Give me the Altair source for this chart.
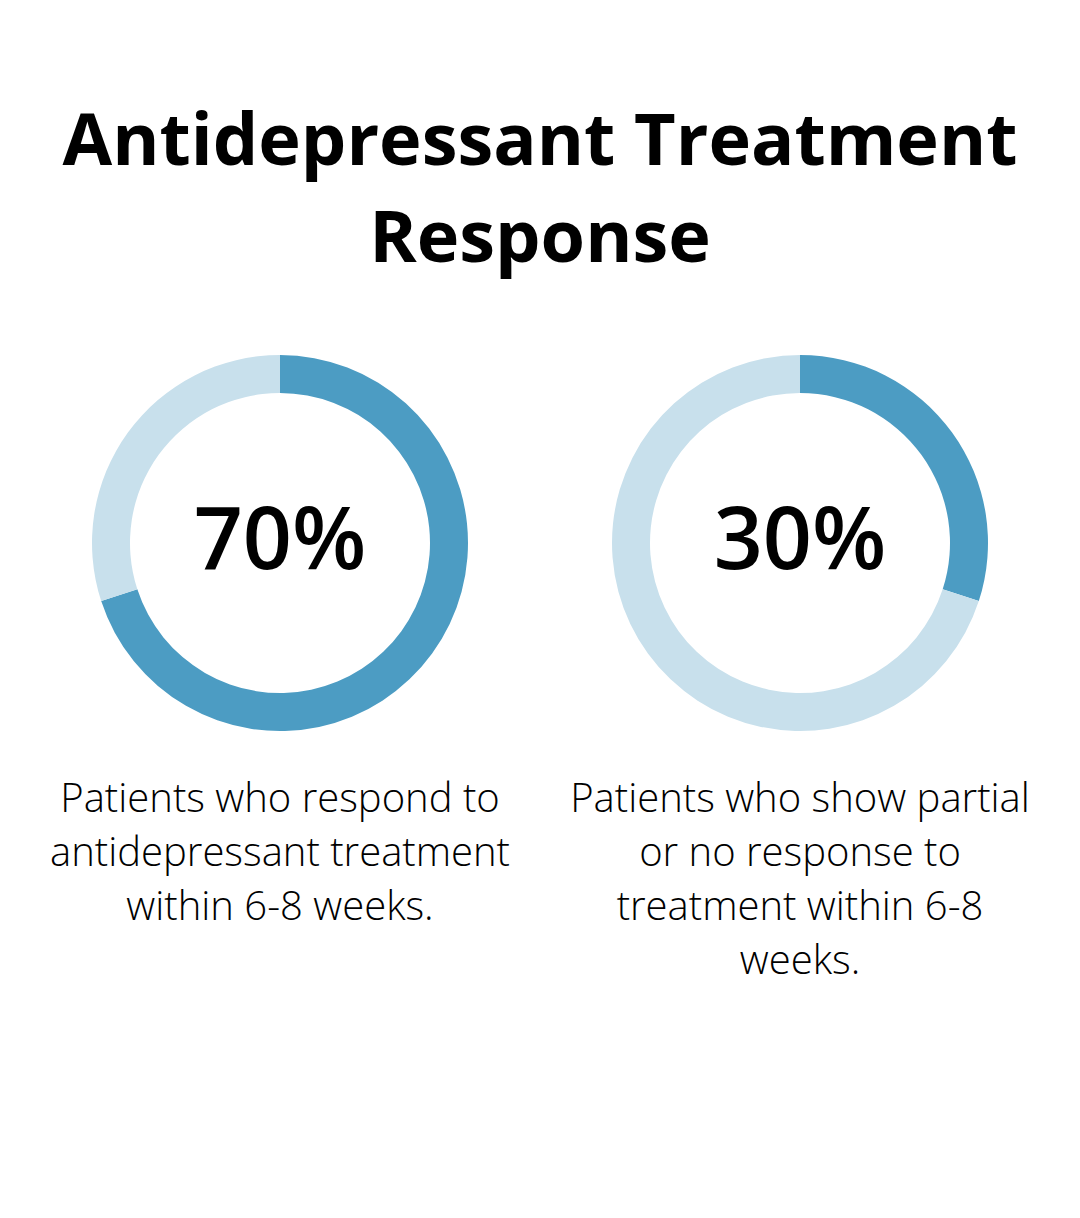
import pandas as pd
import altair as alt

# data
panels = ["respond", "partial"]
responded = [70, 30]
center_labels = ["70%", "30%"]
descriptions = [
    ["Patients who respond to", "antidepressant treatment", "within 6-8 weeks."],
    ["Patients who show partial", "or no response to", "treatment within 6-8", "weeks."],
]
title_lines = ["Antidepressant Treatment", "Response"]

DARK = "#4c9cc3"
LIGHT = "#c8e0ec"
FONT = "Open Sans"

W, H = 1064, 1202
centers_x = [272, 792]
center_y = 535

rows = []
for p, v in zip(panels, responded):
    rows.append({"panel": p, "part": "yes", "value": v, "order": 0})
    rows.append({"panel": p, "part": "no", "value": 100 - v, "order": 1})
arcs_df = pd.DataFrame(rows)

labels_df = pd.DataFrame({
    "panel": panels,
    "label": center_labels,
    "desc": ["\n".join(d) for d in descriptions],
})

layers = []

title = alt.Chart(pd.DataFrame({"t": ["\n".join(title_lines)]})).mark_text(
    font=FONT, fontSize=72, fontWeight="bold", color="#000000",
    align="center", baseline="alphabetic", lineBreak="\n", lineHeight=97,
).encode(x=alt.value(W / 2), y=alt.value(157), text="t:N")
layers.append(title)

for p, cx in zip(panels, centers_x):
    donut = alt.Chart(arcs_df).transform_filter(
        alt.datum.panel == p
    ).mark_arc(innerRadius=150, outerRadius=188, stroke=None).encode(
        theta=alt.Theta("value:Q", stack=True),
        order=alt.Order("order:Q"),
        color=alt.Color("part:N", scale=alt.Scale(domain=["yes", "no"], range=[DARK, LIGHT]), legend=None),
        x=alt.value(cx),
        y=alt.value(center_y),
    )
    big = alt.Chart(labels_df).transform_filter(
        alt.datum.panel == p
    ).mark_text(
        font=FONT, fontSize=86, fontWeight=600, color="#000000",
        align="center", baseline="alphabetic",
    ).encode(x=alt.value(cx), y=alt.value(561), text="label:N")
    desc = alt.Chart(labels_df).transform_filter(
        alt.datum.panel == p
    ).mark_text(
        font=FONT, fontSize=40, fontWeight=300, color="#000000",
        align="center", baseline="alphabetic", lineBreak="\n", lineHeight=54,
    ).encode(x=alt.value(cx), y=alt.value(804), text="desc:N")
    layers += [donut, big, desc]

chart = alt.layer(*layers).properties(
    width=W, height=H, padding=0,
    autosize=alt.AutoSizeParams(type="fit", contains="padding"),
    background="white",
).configure_view(strokeWidth=0)

chart.save("out.html", embed_options={"renderer": "svg", "actions": False})
